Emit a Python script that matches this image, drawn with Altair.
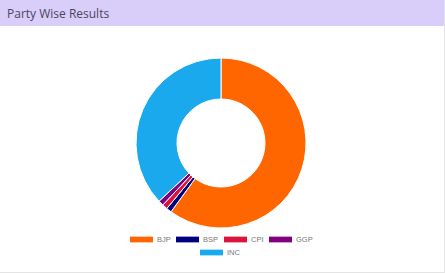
import altair as alt
import pandas as pd

parties = ["BJP", "BSP", "CPI", "GGP", "INC"]
seats = [60, 1, 1, 1, 37]
colors = ["#FF6600", "#000080", "#DC143C", "#800080", "#1AA9EC"]
title_text = "Party Wise Results"

W, H = 445, 273
df = pd.DataFrame({"party": parties, "value": seats, "order": list(range(len(parties)))})
one = pd.DataFrame({"t": [title_text]})

header = alt.Chart(one).mark_rect(color="#D9CDFA").encode(
    x=alt.value(0), x2=alt.value(W), y=alt.value(0), y2=alt.value(26)
)
title = alt.Chart(one).mark_text(
    align="left", baseline="middle", font="Open Sans", fontSize=12, color="#4B4560"
).encode(text="t:N", x=alt.value(7), y=alt.value(14))

border_r = alt.Chart(one).mark_rule(color="#E4E4E4", strokeWidth=1).encode(
    x=alt.value(444.5), y=alt.value(0), y2=alt.value(H)
)
border_b = alt.Chart(one).mark_rule(color="#E4E4E4", strokeWidth=1).encode(
    x=alt.value(0), x2=alt.value(W), y=alt.value(272.5)
)

arc = alt.Chart(df).mark_arc(radius=85, radius2=44, stroke="white", strokeWidth=1).encode(
    theta=alt.Theta("value:Q", stack=True),
    color=alt.Color("party:N", scale=alt.Scale(domain=parties, range=colors), legend=None),
    order=alt.Order("order:Q"),
    x=alt.value(221),
    y=alt.value(143),
)

sym = "M-1,-0.25H1V0.25H-1Z"
leg_common = dict(
    orient="none", direction="horizontal", title=None, symbolType=sym, symbolSize=529,
    symbolOpacity=1, symbolStrokeWidth=0, labelFont="Liberation Sans", labelFontSize=7.5,
    labelColor="#777777", labelOffset=4, columnPadding=5,
)
first = parties[:4]
legA = alt.Chart(df).transform_filter(
    alt.FieldOneOfPredicate(field="party", oneOf=first)
).mark_point(filled=True, opacity=0).encode(
    color=alt.Color("party:N", scale=alt.Scale(domain=first, range=colors[:4]),
                    legend=alt.Legend(legendX=130, legendY=228, **leg_common)),
    x=alt.value(0), y=alt.value(0),
)
legB = alt.Chart(df).transform_filter(
    alt.FieldOneOfPredicate(field="party", oneOf=parties[4:])
).mark_point(filled=True, opacity=0).encode(
    color=alt.Color("party:N", scale=alt.Scale(domain=parties[4:], range=colors[4:]),
                    legend=alt.Legend(legendX=200, legendY=241, **leg_common)),
    x=alt.value(0), y=alt.value(0),
)

chart = alt.layer(header, title, border_r, border_b, arc, legA, legB).resolve_scale(
    color="independent"
).properties(
    width=W, height=H, padding=0, autosize=alt.AutoSizeParams(type="none"), background="white"
).configure_view(stroke=None)

chart.save("out.html", embed_options={"renderer": "svg", "actions": False})
